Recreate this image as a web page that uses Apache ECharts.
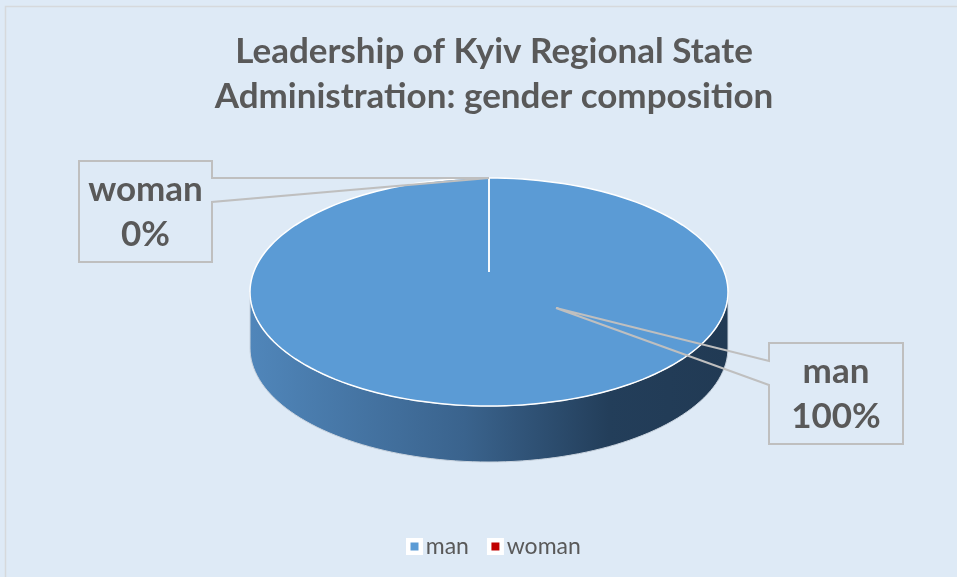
<!DOCTYPE html>
<html>
<head>
<meta charset="utf-8">
<script src="https://cdn.jsdelivr.net/npm/echarts@6/dist/echarts.min.js"></script>
<style>
  html, body { margin: 0; padding: 0; background: #deeaf6; }
  #chart { width: 957px; height: 577px; }
</style>
</head>
<body>
<div id="chart"></div>
<script>
// data
const categories = ['man', 'woman'];
const shares = [100, 0];
const sliceColors = ['#5b9bd5', '#c00000'];
const titleLines = ['Leadership of Kyiv Regional State', 'Administration: gender composition'];

// pie geometry (tilted 3d disc)
const CX = 489, CY = 292, RX = 239, RY = 114, DEPTH = 56;
const PIVOT = [489, 272];
const TEXT_COLOR = '#595959';
const FONT = 'Lato, "Open Sans", sans-serif';

// callout boxes for data labels
const callouts = [
    { x: 769, y: 343, w: 134, h: 101, side: 'left', attach: [361, 385], tip: [556, 308] },
    { x: 79, y: 161, w: 133, h: 101, side: 'right', attach: [178, 202], tip: null }
];

function rimPoint(deg, dy) {
    const r = deg * Math.PI / 180;
    return [CX + RX * Math.sin(r), CY - RY * Math.cos(r) + (dy || 0)];
}

function arcPoints(a0, a1, dy) {
    const pts = [];
    const n = Math.max(2, Math.ceil(Math.abs(a1 - a0) / 2));
    for (let k = 0; k <= n; k++) {
        pts.push(rimPoint(a0 + (a1 - a0) * k / n, dy));
    }
    return pts;
}

function makeRenderer(idx) {
    return function (params, api) {
        const total = shares.reduce((a, b) => a + b, 0);
        let before = 0;
        for (let k = 0; k < idx; k++) before += shares[k];
        const value = api.value(0);
        const a0 = before / total * 360;
        const a1 = (before + value) / total * 360;
        const color = api.visual('color');
        const children = [];

        if (a1 > a0) {
            // visible front side of the disc
            const s0 = Math.max(a0, 90), s1 = Math.min(a1, 270);
            if (s1 > s0) {
                const sidePts = arcPoints(s0, s1, 0).concat(arcPoints(s1, s0, DEPTH));
                children.push({
                    type: 'polygon',
                    shape: { points: sidePts },
                    style: {
                        fill: {
                            type: 'linear', x: 0, y: 0, x2: 1, y2: 0,
                            colorStops: [
                                { offset: 0, color: '#5086ba' },
                                { offset: 0.45, color: '#3a638d' },
                                { offset: 0.75, color: '#233e5a' },
                                { offset: 1, color: '#213a54' }
                            ]
                        },
                        stroke: '#c9d3de',
                        lineWidth: 1
                    }
                });
            }
            // top face
            let topPts;
            if (a1 - a0 >= 360) {
                topPts = arcPoints(0, 360, 0);
            } else {
                topPts = [PIVOT].concat(arcPoints(a0, a1, 0));
            }
            children.push({
                type: 'polygon',
                shape: { points: topPts },
                style: { fill: color, stroke: '#ffffff', lineWidth: 1.5 }
            });
        }

        // slice seam
        const edge = rimPoint(a0, 0);
        children.push({
            type: 'line',
            shape: { x1: PIVOT[0], y1: PIVOT[1], x2: edge[0], y2: edge[1] },
            style: { stroke: '#ffffff', lineWidth: 1.5 }
        });

        // callout label
        const c = callouts[idx];
        const tip = c.tip || rimPoint((a0 + a1) / 2, 0);
        let outline;
        if (c.side === 'left') {
            outline = [[c.x, c.y], [c.x + c.w, c.y], [c.x + c.w, c.y + c.h], [c.x, c.y + c.h],
                [c.x, c.attach[1]], tip, [c.x, c.attach[0]]];
        } else {
            outline = [[c.x, c.y], [c.x + c.w, c.y], [c.x + c.w, c.attach[0]], tip,
                [c.x + c.w, c.attach[1]], [c.x + c.w, c.y + c.h], [c.x, c.y + c.h]];
        }
        children.push({
            type: 'polygon',
            z2: 10,
            shape: { points: outline },
            style: { fill: 'none', stroke: '#bfbfbf', lineWidth: 2 }
        });
        children.push({
            type: 'text',
            z2: 11,
            style: {
                text: categories[idx] + '\n' + Math.round(value / total * 100) + '%',
                x: c.x + c.w / 2,
                y: c.y + c.h / 2 + 1,
                align: 'center',
                verticalAlign: 'middle',
                fill: TEXT_COLOR,
                font: 'bold 35px ' + FONT,
                lineHeight: 45
            }
        });

        return { type: 'group', children: children };
    };
}

const chart = echarts.init(document.getElementById('chart'));

const series = categories.map((name, i) => ({
    type: 'custom',
    name: name,
    coordinateSystem: 'none',
    itemStyle: { color: sliceColors[i] },
    renderItem: makeRenderer(i),
    data: [[shares[i]]]
}));

chart.setOption({
    backgroundColor: '#deeaf6',
    animation: false,
    title: {
        text: titleLines.join('\n'),
        left: 489,
        top: 24,
        textAlign: 'center',
        textStyle: {
            fontFamily: FONT,
            fontSize: 35,
            fontWeight: 'bold',
            color: TEXT_COLOR,
            lineHeight: 45
        }
    },
    legend: {
        data: categories,
        left: 401,
        top: 530,
        icon: 'rect',
        itemWidth: 12.5,
        itemHeight: 12.5,
        itemGap: 18,
        itemStyle: { borderColor: '#ffffff', borderWidth: 4.5 },
        textStyle: { fontFamily: FONT, fontSize: 23, color: TEXT_COLOR }
    },
    graphic: [{
        type: 'rect',
        shape: { x: 5.5, y: 6.5, width: 1000, height: 1000 },
        style: { fill: 'none', stroke: '#d6d9dc', lineWidth: 1.5 },
        silent: true
    }],
    series: series
});
</script>
</body>
</html>
